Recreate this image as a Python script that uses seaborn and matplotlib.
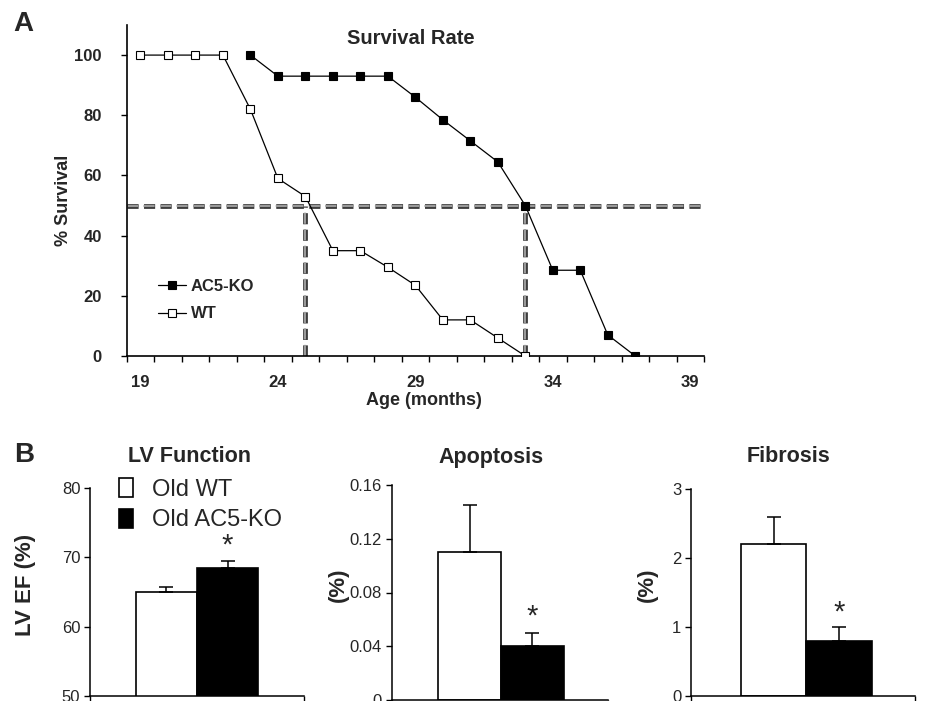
import matplotlib
matplotlib.use("Agg")
import matplotlib.pyplot as plt
import seaborn as sns
import pandas as pd
import numpy as np

# ---------------- data ----------------
wt_age = [19, 20, 21, 22, 23, 24, 25, 26, 27, 28, 29, 30, 31, 32, 33]
wt_surv = [100, 100, 100, 100, 82, 59, 53, 35, 35, 29.5, 23.5, 12, 12, 6, 0]
ko_age = [23, 24, 25, 26, 27, 28, 29, 30, 31, 32, 33, 34, 35, 36, 37]
ko_surv = [100, 93, 93, 93, 93, 93, 86, 78.5, 71.5, 64.5, 50, 28.5, 28.5, 7, 0]
median_wt = 25
median_ko = 33
age_labels = [19, 24, 29, 34, 39]
surv_ticks = [0, 20, 40, 60, 80, 100]

groups = ["Old WT", "Old AC5-KO"]
lv_mean = [65.0, 68.5]
lv_err = [0.7, 1.0]
apo_mean = [0.110, 0.040]
apo_err = [0.035, 0.010]
fib_mean = [2.2, 0.8]
fib_err = [0.4, 0.2]

sns.set_theme(style="ticks")
plt.rcParams['font.family'] = ['Liberation Sans', 'DejaVu Sans']
plt.rcParams['lines.scale_dashes'] = False
NARROW = ['Liberation Sans Narrow', 'Liberation Sans', 'DejaVu Sans']

W, H = 926, 701
fig = plt.figure(figsize=(W / 100, H / 100), dpi=100)


def fx(px):
    return px / W


def fy(py):
    return 1 - py / H


def axes_px(l, t, r, b):
    return fig.add_axes([fx(l), fy(b), fx(r) - fx(l), fy(t) - fy(b)])


# ---------------- Panel A ----------------
axA = axes_px(126.7, 25, 704, 356)
df_wt = pd.DataFrame({"age": wt_age, "surv": wt_surv})
df_ko = pd.DataFrame({"age": ko_age, "surv": ko_surv})

# dashed median lines (dark outline + gray core)
for lw, col, z in [(3.4, '#333333', 1), (1.6, '#9a9a9a', 1.1)]:
    axA.plot([18.5, 39.5], [50, 50], color=col, lw=lw, dashes=(8, 3.9), zorder=z,
             dash_capstyle='butt')
    for m in (median_wt, median_ko):
        axA.plot([m, m], [0, 50], color=col, lw=lw, dashes=(8, 3.9), zorder=z,
                 dash_capstyle='butt')

sns.lineplot(data=df_ko, x="age", y="surv", ax=axA, color='black', lw=0.9,
             marker='s', markersize=5.6, markerfacecolor='black',
             markeredgecolor='black', markeredgewidth=0.8, label='AC5-KO', zorder=3)
sns.lineplot(data=df_wt, x="age", y="surv", ax=axA, color='black', lw=0.9,
             marker='s', markersize=5.6, markerfacecolor='white',
             markeredgecolor='black', markeredgewidth=0.8, label='WT', zorder=3)

axA.set_xlim(18.5, 39.5)
axA.set_ylim(0, 110)
axA.set_xticks(age_labels)
axA.set_xticklabels([str(a) for a in age_labels], fontsize=12, fontweight='bold')
axA.set_xticks(np.arange(18.5, 40, 1), minor=True)
axA.tick_params(axis='x', which='major', length=0, pad=14)
axA.tick_params(axis='x', which='minor', length=4, width=1, direction='out', color='black')
axA.set_yticks(surv_ticks)
axA.set_yticklabels([str(v) for v in surv_ticks], fontsize=12, fontweight='bold')
axA.tick_params(axis='y', length=4, width=1, direction='out', color='black', pad=14)
for s in ['top', 'right']:
    axA.spines[s].set_visible(False)
for s in ['left', 'bottom']:
    axA.spines[s].set_linewidth(1.2)
    axA.spines[s].set_color('black')
axA.set_xlabel('')
axA.set_ylabel('')
fig.text(fx(424), fy(401), 'Age (months)', ha='center', va='center',
         fontsize=13, fontweight='bold')
fig.text(fx(63), fy(200), '% Survival', ha='center', va='center', rotation=90,
         fontsize=13, fontweight='bold')
fig.text(fx(411), fy(38), 'Survival Rate', ha='center', va='center',
         fontsize=14.5, fontweight='bold')
fig.text(fx(23), fy(24), 'A', ha='center', va='center', fontsize=20, fontweight='bold')

legA = axA.legend(loc='upper left', bbox_to_anchor=(fx(158), fy(279)),
                  bbox_transform=fig.transFigure, frameon=False,
                  prop={'weight': 'bold', 'size': 12}, handlelength=1.65,
                  handletextpad=0.3, labelspacing=0.75, borderpad=0,
                  borderaxespad=0, numpoints=1)

# ---------------- Panel B ----------------
panels = [
    dict(name='LV Function', mean=lv_mean, err=lv_err, box=(90, 488, 304, 696),
         ylim=(50, 80), ticks=[50, 60, 70, 80], labels=['50', '60', '70', '80'],
         xlim=(-0.70, 0.70), ylabel='LV EF (%)', ylx=25, title_x=189, star_off=15),
    dict(name='Apoptosis', mean=apo_mean, err=apo_err, box=(391.7, 485, 608, 700),
         ylim=(0, 0.16), ticks=[0, 0.04, 0.08, 0.12, 0.16],
         labels=['0', '0.04', '0.08', '0.12', '0.16'],
         xlim=(-0.698, 0.684), ylabel='(%)', ylx=338, title_x=491, star_off=16),
    dict(name='Fibrosis', mean=fib_mean, err=fib_err, box=(691, 489, 915, 696),
         ylim=(0, 3), ticks=[0, 1, 2, 3], labels=['0', '1', '2', '3'],
         xlim=(-0.702, 0.66), ylabel='(%)', ylx=647, title_x=789, star_off=14),
]

for i, p in enumerate(panels):
    l, t, r, b = p['box']
    ax = axes_px(l, t, r, b)
    df = pd.DataFrame({"panel": [p['name']] * 2, "group": groups, "value": p['mean']})
    sns.barplot(data=df, x="panel", y="value", hue="group", hue_order=groups,
                palette=['white', 'black'], edgecolor='black', linewidth=1.2,
                errorbar=None, ax=ax, width=0.8, legend=(i == 0))
    bars = [pt for pt in ax.patches if pt.get_width() > 0][:2]
    for bar, m, e in zip(bars, p['mean'], p['err']):
        cx = bar.get_x() + bar.get_width() / 2
        ax.errorbar([cx], [m], yerr=[[0], [e]], fmt='none', ecolor='black',
                    elinewidth=1.1, capsize=5.2, capthick=1.1, zorder=4)
    # star on KO bar
    kb = bars[1]
    kcx = kb.get_x() + kb.get_width() / 2
    ax.annotate('*', xy=(kcx, p['mean'][1] + p['err'][1]), xytext=(0, p['star_off'] * 0.72),
                textcoords='offset points', ha='center', va='center', fontsize=21,
                family=NARROW, annotation_clip=False)
    ax.set_xlim(*p['xlim'])
    ax.set_ylim(*p['ylim'])
    ax.set_yticks(p['ticks'])
    ax.set_yticklabels(p['labels'], fontsize=12, family=NARROW)
    ax.set_xticks([p['xlim'][0], p['xlim'][1]])
    ax.set_xticklabels(['', ''])
    ax.tick_params(axis='x', length=4, width=1, direction='out', color='black')
    ax.tick_params(axis='y', length=4, width=1, direction='out', color='black', pad=3)
    for s in ['top', 'right']:
        ax.spines[s].set_visible(False)
    for s in ['left', 'bottom']:
        ax.spines[s].set_linewidth(1.1)
        ax.spines[s].set_color('black')
    ax.set_xlabel('')
    ax.set_ylabel('')
    fig.text(fx(p['ylx']), fy(585), p['ylabel'], rotation=90, ha='center', va='center',
             fontsize=16, fontweight='bold')
    fig.text(fx(p['title_x']), fy(457), p['name'], ha='center', va='center',
             fontsize=15.5, fontweight='bold', family=NARROW)
    if i == 0:
        sns.move_legend(ax, loc='upper left', bbox_to_anchor=(fx(119), fy(478)),
                        bbox_transform=fig.transFigure, frameon=False, title=None,
                        prop={'size': 17, 'family': NARROW}, handlelength=0.6,
                        handleheight=0.85, handletextpad=0.8, labelspacing=0.35,
                        borderpad=0, borderaxespad=0)
        for h in ax.get_legend().legend_handles:
            h.set_edgecolor('black')
            h.set_linewidth(1.2)

fig.text(fx(24), fy(455), 'B', ha='center', va='center', fontsize=20, fontweight='bold')

fig.savefig('out.png', dpi=100)
